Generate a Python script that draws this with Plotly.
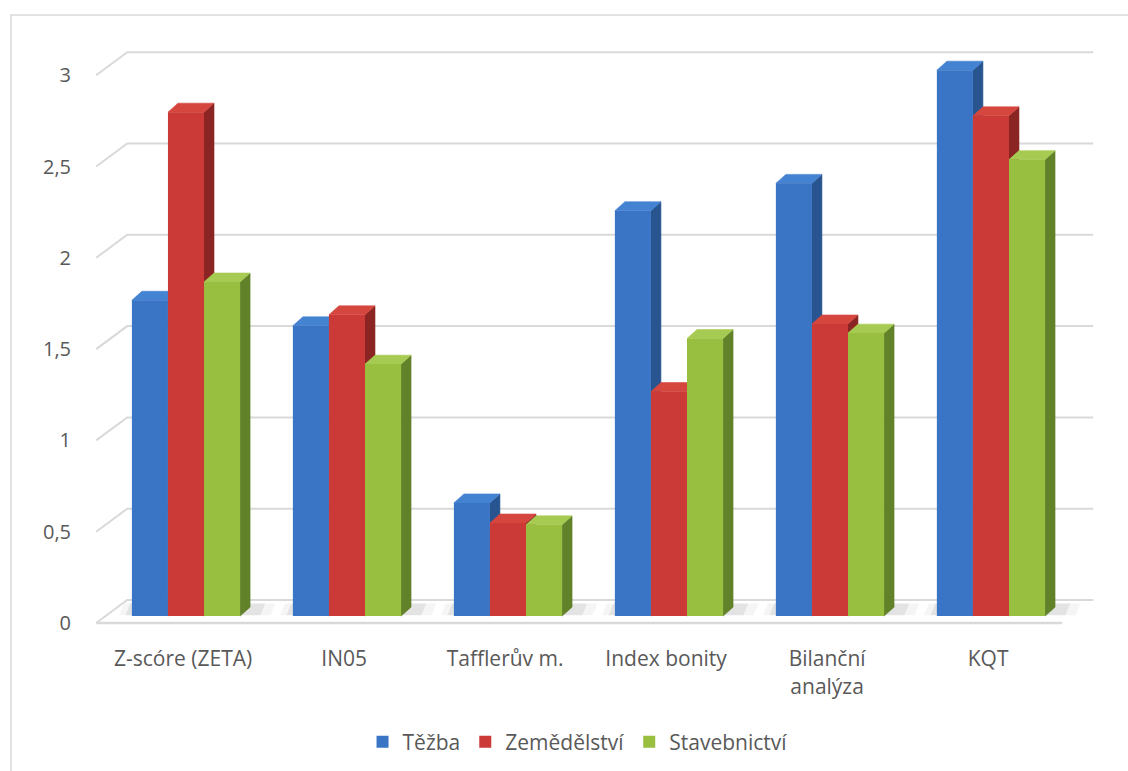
import plotly.graph_objects as go

# ---- data -------------------------------------------------------------
categories = ["Z-scóre (ZETA)", "IN05", "Tafflerův m.", "Index bonity",
              "Bilanční<br>analýza", "KQT"]
tezba = [1.73, 1.59, 0.62, 2.22, 2.37, 2.99]
zemedelstvi = [2.76, 1.65, 0.51, 1.23, 1.60, 2.74]
stavebnictvi = [1.83, 1.38, 0.50, 1.52, 1.55, 2.50]
series_names = ["Těžba", "Zemědělství", "Stavebnictví"]
y_ticks = [0, 0.5, 1, 1.5, 2, 2.5, 3]

# ---- styling / 3D projection constants -------------------------------
FRONT = ["#3A74C4", "#CB3A36", "#99BF40"]
SIDE = ["#28558F", "#8A2523", "#62822A"]
TOP = ["#4482D2", "#D5463F", "#A7CB52"]
GRID = "#D9D9D9"
TEXT = "#595959"
FONT = "Open Sans"
FS = 21

DX, DY = 0.1925, 0.126      # wall depth vector (category units, value units)
F = 0.30                    # depth fraction of the bars' front faces
BDX, BDY = 0.062, 0.049     # depth of one bar
W = 0.224                   # width of one bar
X_RANGE = [-0.5385, 5.735]
Y_RANGE = [-0.0383, 3.1928]
FX, FY = F * DX, F * DY

n = len(categories)
values = [tezba, zemedelstvi, stavebnictvi]

fig = go.Figure()

# ---- walls: gridlines on the left wall and the back wall --------------
left, right = -0.5, n - 0.5 + DX
gx, gy = [], []
for t in y_ticks:
    gx += [left, left + DX, right, None]
    gy += [t, t + DY, t + DY, None]
fig.add_trace(go.Scatter(x=gx, y=gy, mode="lines", line=dict(color=GRID, width=2),
                         hoverinfo="skip", showlegend=False))
# front edge of the floor
fig.add_trace(go.Scatter(x=[left, n - 0.5], y=[0, 0], mode="lines",
                         line=dict(color=GRID, width=2.5),
                         hoverinfo="skip", showlegend=False))

# ---- soft shadows on the floor under each group ----------------------
for alpha, grow in [(0.04, 0.08), (0.07, 0.04)]:
    sx, sy = [], []
    for i in range(n):
        x0 = i - 1.5 * W + FX - grow
        x1 = i + 1.5 * W + FX + BDX + grow * 1.6
        y0 = FY + 0.004
        y1 = FY + BDY + 0.02
        sx += [x0, x1, x1 + 0.03, x0 + 0.03, x0, None]
        sy += [y0, y0, y1, y1, y0, None]
    fig.add_trace(go.Scatter(x=sx, y=sy, mode="lines", fill="toself",
                             fillcolor=f"rgba(0,0,0,{alpha})",
                             line=dict(width=0), hoverinfo="skip", showlegend=False))

# ---- side and top faces of the bars ----------------------------------
for s in range(3):
    side_x, side_y, top_x, top_y = [], [], [], []
    for i in range(n):
        v = values[s][i]
        x0 = i + (s - 1) * W - W / 2 + FX
        x1 = x0 + W
        side_x += [x1, x1, x1 + BDX, x1 + BDX, x1, None]
        side_y += [FY, v + FY, v + FY + BDY, FY + BDY, FY, None]
        top_x += [x0, x1, x1 + BDX, x0 + BDX, x0, None]
        top_y += [v + FY, v + FY, v + FY + BDY, v + FY + BDY, v + FY, None]
    fig.add_trace(go.Scatter(x=side_x, y=side_y, mode="lines", fill="toself",
                             fillcolor=SIDE[s], line=dict(width=0.6, color=SIDE[s]),
                             hoverinfo="skip", showlegend=False))
    fig.add_trace(go.Scatter(x=top_x, y=top_y, mode="lines", fill="toself",
                             fillcolor=TOP[s], line=dict(width=0.6, color=TOP[s]),
                             hoverinfo="skip", showlegend=False))

# ---- front faces of the bars (overlay axes, drawn above the faces) ----
x_idx = list(range(n))
for s in range(3):
    fig.add_trace(go.Bar(x=x_idx, y=values[s], name=series_names[s],
                         marker=dict(color=FRONT[s], line=dict(width=0)),
                         xaxis="x2", yaxis="y2"))

fig.update_layout(
    width=1128, height=771,
    margin=dict(l=90, r=28, t=40, b=141),
    paper_bgcolor="white", plot_bgcolor="white",
    separators=", ",
    barmode="group", bargap=1 - 3 * W, bargroupgap=0,
    font=dict(family=FONT, size=FS, color=TEXT),
    xaxis=dict(range=X_RANGE, showgrid=False, zeroline=False, showline=False,
               tickmode="array", tickvals=[i + 0.04 for i in x_idx],
               ticktext=categories, ticks="outside", ticklen=10,
               tickcolor="rgba(0,0,0,0)", tickfont=dict(size=FS, color=TEXT)),
    yaxis=dict(range=Y_RANGE, showgrid=False, zeroline=False, showline=False,
               tickmode="array", tickvals=y_ticks, ticks="outside", ticklen=14,
               tickcolor="rgba(0,0,0,0)", tickfont=dict(size=20, color=TEXT)),
    xaxis2=dict(range=[X_RANGE[0] - FX, X_RANGE[1] - FX], overlaying="x",
                visible=False),
    yaxis2=dict(range=[Y_RANGE[0] - FY, Y_RANGE[1] - FY], overlaying="y",
                visible=False),
    legend=dict(orientation="h", xref="container", yref="container",
                x=0.512, y=0.0376, xanchor="center", yanchor="middle",
                font=dict(size=FS, color=TEXT), itemwidth=30,
                traceorder="normal"),
    shapes=[dict(type="rect", xref="paper", yref="paper",
                 x0=(11 - 90) / 1010, x1=(1140 - 90) / 1010,
                 y0=(630 - 790) / 590, y1=(630 - 15) / 590,
                 line=dict(color=GRID, width=1.5), fillcolor="rgba(0,0,0,0)",
                 layer="below")],
)

fig.write_html("out.html")
